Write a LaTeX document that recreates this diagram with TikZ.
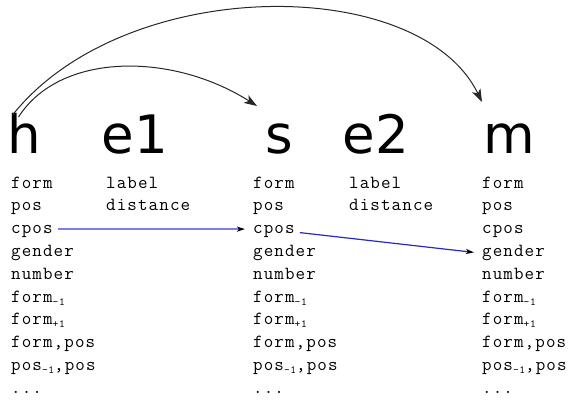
\documentclass[tikz,border=0pt]{standalone}
\usepackage{fontspec}
\usetikzlibrary{arrows.meta,calc}
\newfontfamily\bigfont{DejaVu Sans}
\newfontfamily\monofont[LetterSpace=6]{Latin Modern Mono}
\definecolor{lightlink}{RGB}{125,125,235}
\definecolor{darklink}{RGB}{40,40,200}
\newcommand\subsc[1]{\raisebox{-3pt}{\fontsize{11}{11}\selectfont #1}}
\tikzset{
  big/.style={anchor=base, inner sep=0pt, font=\bigfont\fontsize{53}{53}\selectfont},
  mono/.style={anchor=base west, inner sep=0pt, font=\monofont\fontsize{18.5}{18.5}\selectfont},
  arc/.style={line width=1pt, draw=black!85, -{Stealth[length=13pt,width=9pt,inset=3.5pt]}},
  link/.style={line width=1.6pt, -{Stealth[length=8pt,width=5pt,inset=2pt,color=black]}}
}
\newcommand\mkcol[2]{%
  \node[mono] (#1r1) at (#2,188) {form};
  \node[mono] (#1r2) at (#2,210.8) {pos};
  \node[mono] (#1r3) at (#2,233.6) {cpos};
  \node[mono] (#1r4) at (#2,256.4) {gender};
  \node[mono] (#1r5) at (#2,279.2) {number};
  \node[mono] (#1r6) at (#2,302) {form\subsc{-1}};
  \node[mono] (#1r7) at (#2,324.8) {form\subsc{+1}};
  \node[mono] (#1r8) at (#2,347.6) {form,pos};
  \node[mono] (#1r9) at (#2,370.4) {pos\subsc{-1},pos};
  \node[mono] (#1r10) at (#2,393.2) {...};
}
\begin{document}
\begin{tikzpicture}[x=1pt,y=-1pt]
\useasboundingbox (0,0) rectangle (574,400);
\node[big] (h) at (24,153) {h};
\node[big] (e1) at (135,153) {e1};
\node[big] (s) at (279,153) {s};
\node[big] (e2) at (376,153) {e2};
\node[big] (m) at (509,153) {m};

\mkcol{h}{11}
\mkcol{s}{253}
\mkcol{m}{482}
\node[mono] (la1) at (106,188) {label};
\node[mono] (di1) at (106,210.8) {distance};
\node[mono] (la2) at (349,188) {label};
\node[mono] (di2) at (349,210.8) {distance};

\coordinate (tipS) at (257,106);
\coordinate (tipM) at (482,102);
\draw[arc] ($(h.north west)+(5.5,2.5)$) .. controls (125,-26) and (420,-26) .. (tipM);
\draw[arc] ($(h.north west)+(11.5,4.5)$) .. controls (60,52) and (172,52) .. (tipS);

\draw[link, draw=lightlink] ($(hr3.base east)+(5,-4.5)$) -- ($(sr3.base west)+(-8,-4.5)$);
\draw[link, draw=darklink, line width=1.2pt] ($(sr3.base east)+(5,-1)$) -- ($(mr4.base west)+(-8,-4)$);
\end{tikzpicture}
\end{document}
